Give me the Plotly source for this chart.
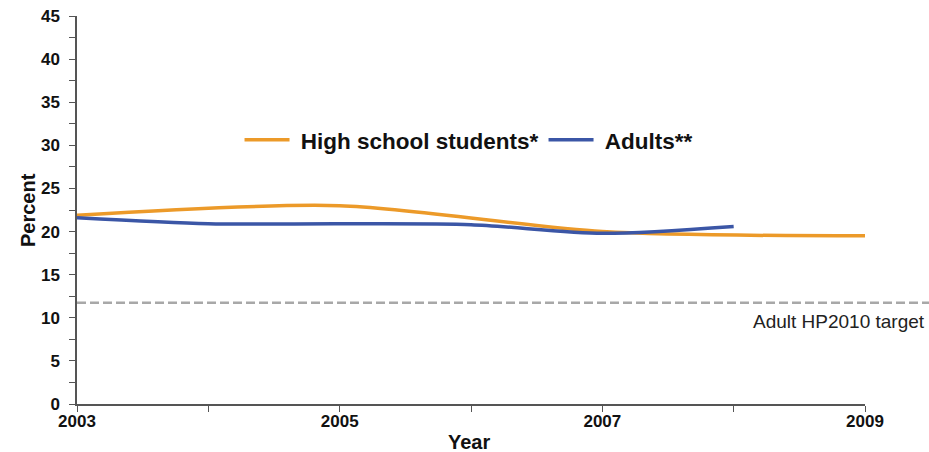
import plotly.graph_objects as go

hs_years = [2003, 2005, 2007, 2009]
hs_values = [21.9, 23.0, 20.0, 19.5]
adult_years = [2003, 2004, 2005, 2006, 2007, 2008]
adult_values = [21.6, 20.9, 20.9, 20.8, 19.8, 20.6]
target_value = 11.75
x_tick_vals = [2003, 2004, 2005, 2006, 2007, 2008, 2009]
x_tick_text = ["2003", "", "2005", "", "2007", "", "2009"]

ORANGE = "#EC9A29"
BLUE = "#3B56A6"
FONT = "Liberation Sans, Arial, sans-serif"

fig = go.Figure()
fig.add_trace(go.Scatter(x=hs_years, y=hs_values, mode="lines", name="\u00a0High school students*",
                         line=dict(color=ORANGE, width=3.5, shape="spline", smoothing=0.8)))
fig.add_trace(go.Scatter(x=adult_years, y=adult_values, mode="lines", name="\u00a0Adults**",
                         line=dict(color=BLUE, width=3.5, shape="spline", smoothing=0.8)))

fig.add_shape(type="line", xref="paper", yref="y", x0=0, x1=1.09, y0=target_value, y1=target_value,
              line=dict(color="#A8A8A8", width=2.5, dash="9px,4px"), layer="below")
fig.add_annotation(text="Adult HP2010 target", xref="paper", yref="y", x=1.0787, y=target_value,
                   xanchor="right", yanchor="top", yshift=-6, showarrow=False,
                   font=dict(family=FONT, size=19, color="#222222"))
fig.add_annotation(text="<b>Percent</b>", xref="paper", yref="paper", x=0, y=0.5,
                   xanchor="center", yanchor="middle", xshift=-49, textangle=-90, showarrow=False,
                   font=dict(family=FONT, size=20, color="#111111"))
fig.add_annotation(text="<b>Year</b>", xref="paper", yref="paper", x=0.4975, y=0,
                   xanchor="center", yanchor="top", yshift=-25, showarrow=False,
                   font=dict(family=FONT, size=20, color="#111111"))

fig.update_layout(
    width=929, height=452,
    margin=dict(l=77, r=64, t=16, b=48),
    paper_bgcolor="white", plot_bgcolor="white",
    font=dict(family=FONT, color="#111111"),
    legend=dict(orientation="h", x=0.4975, xanchor="center", y=0.68, yanchor="middle",
                font=dict(family=FONT, size=22.5, color="#111111", weight="bold"),
                bgcolor="rgba(0,0,0,0)", itemwidth=45),
    showlegend=True,
)
fig.update_xaxes(range=[2003, 2009], tickvals=x_tick_vals, ticktext=x_tick_text, automargin=False,
                 showgrid=False, zeroline=False, showline=True, linecolor="#555555", linewidth=1.5,
                 ticks="outside", ticklen=6, tickcolor="#555555", tickwidth=1.2,
                 ticklabelstandoff=-5, ticklabeloverflow="allow",
                 tickfont=dict(family=FONT, size=17, color="#111111", weight="bold"))
fig.update_yaxes(range=[0, 45], dtick=5, tick0=0, automargin=False,
                 showgrid=False, zeroline=False, showline=True, linecolor="#555555", linewidth=1.5,
                 ticks="outside", ticklen=6, tickcolor="#555555", tickwidth=1.2,
                 ticklabelstandoff=6, ticklabeloverflow="allow",
                 minor=dict(dtick=2.5, ticks="outside", ticklen=6, tickcolor="#555555", tickwidth=1.2, showgrid=False),
                 tickfont=dict(family=FONT, size=17, color="#111111", weight="bold"))

fig.write_html("out.html", config={"displayModeBar": False},
               post_script="document.body.style.margin='0';document.body.style.overflow='hidden';")
